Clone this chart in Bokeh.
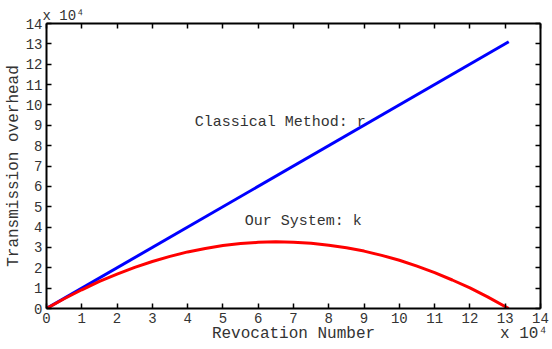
from bokeh.plotting import figure
from bokeh.models import LinearAxis, Label, Range1d, FixedTicker, Title
from bokeh.embed import file_html
from bokeh.resources import INLINE

# Data (units of 10^4)
revocations = [0, 13.1]
classical_r = [0, 13.1]

our_x = [0, 0.5, 1, 1.5, 2, 2.5, 3, 3.5, 4, 4.5, 5, 5.5, 6, 6.5, 7, 7.5,
         8, 8.5, 9, 9.5, 10, 10.5, 11, 11.5, 12, 12.5, 13.1]
our_k = [0, 0.48, 0.92, 1.33, 1.69, 2.02, 2.31, 2.56, 2.78, 2.95, 3.09, 3.19,
         3.25, 3.28, 3.26, 3.21, 3.11, 2.98, 2.82, 2.61, 2.37, 2.08, 1.76,
         1.40, 1.01, 0.57, 0]

ticks = list(range(0, 15))

x_label = "Revocation Number"
y_label = "Transmission overhead"
scale_label = "x 10\u2074"

FONT = "Liberation Mono"
TXT = "#333333"
NB = "\u00a0"

p = figure(width=552, height=349, output_backend="svg", toolbar_location=None,
           x_range=Range1d(0, 14), y_range=Range1d(0, 14),
           min_border_left=46, min_border_right=12, min_border_top=23,
           min_border_bottom=41, x_axis_location=None, y_axis_location=None)
p.grid.visible = False
p.outline_line_color = None
p.background_fill_color = "white"
p.border_fill_color = "white"

def style(ax, labels=True):
    ax.ticker = FixedTicker(ticks=ticks)
    ax.axis_line_color = "black"
    ax.axis_line_width = 2
    ax.major_tick_in = 5
    ax.major_tick_out = 0
    ax.major_tick_line_width = 1.5
    ax.minor_tick_line_color = None
    if labels:
        ax.major_label_text_font = FONT
        ax.major_label_text_font_size = "14px"
        ax.major_label_text_color = TXT
        ax.major_label_standoff = 4
        ax.axis_label_text_font = FONT
        ax.axis_label_text_font_size = "16px"
        ax.axis_label_text_font_style = "normal"
        ax.axis_label_text_color = TXT
    else:
        ax.major_label_text_font_size = "0px"
        ax.major_label_standoff = 0
        ax.major_label_text_color = None

# bottom axis label: main label centred, scale factor at the right end
bottom_label = NB * 18 + x_label + NB * 13 + scale_label
bx = LinearAxis(axis_label=bottom_label, axis_label_standoff=-1)
style(bx); p.add_layout(bx, "below")
ly = LinearAxis(axis_label=y_label, axis_label_standoff=0)
style(ly); p.add_layout(ly, "left")
tx = LinearAxis(); style(tx, False); p.add_layout(tx, "above")
ry = LinearAxis(); style(ry, False); p.add_layout(ry, "right")

p.line(revocations, classical_r, line_color="#0000ff", line_width=3)
p.line(our_x, our_k, line_color="#ff0000", line_width=3)

def lab(x, y, t):
    p.add_layout(Label(x=x, y=y, text=t, text_font=FONT, text_font_size="15px",
                       text_color=TXT, text_align="left", text_baseline="middle"))

lab(4.2, 9.14, "Classical Method: r")
lab(5.62, 4.27, "Our System: k")

p.add_layout(Title(text=scale_label, align="left", text_font=FONT,
                   text_font_size="14px", text_color=TXT,
                   text_font_style="normal", standoff=0, offset=-4), "above")

open("out.html", "w").write(file_html(p, INLINE))
